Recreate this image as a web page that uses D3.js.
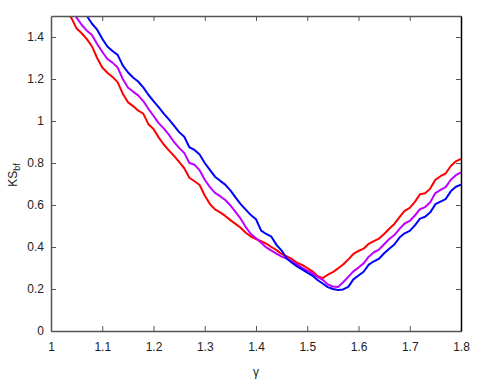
<!DOCTYPE html>
<html lang="en">
<head>
<meta charset="UTF-8">
<title>KS_bf vs gamma</title>
<script src="https://d3js.org/d3.v7.min.js"></script>
<style>
  body { margin: 0; background: #fff; }
  .tick-label { font-family: "Liberation Sans Narrow", "Liberation Sans", Arial, sans-serif; font-size: 12px; fill: #222; }
  .axis-label { font-family: "Liberation Sans", Arial, sans-serif; font-size: 12px; fill: #222; }
  .curve { fill: none; stroke-width: 2; stroke-linejoin: round; }
</style>
</head>
<body>
<div id="chart"></div>
<script>
// x grid (gamma)
const gamma = [1.00, 1.01, 1.02, 1.03, 1.04, 1.05, 1.06, 1.07, 1.08, 1.09,
  1.10, 1.11, 1.12, 1.13, 1.14, 1.15, 1.16, 1.17, 1.18, 1.19,
  1.20, 1.21, 1.22, 1.23, 1.24, 1.25, 1.26, 1.27, 1.28, 1.29,
  1.30, 1.31, 1.32, 1.33, 1.34, 1.35, 1.36, 1.37, 1.38, 1.39,
  1.40, 1.41, 1.42, 1.43, 1.44, 1.45, 1.46, 1.47, 1.48, 1.49,
  1.50, 1.51, 1.52, 1.53, 1.54, 1.55, 1.56, 1.57, 1.58, 1.59,
  1.60, 1.61, 1.62, 1.63, 1.64, 1.65, 1.66, 1.67, 1.68, 1.69,
  1.70, 1.71, 1.72, 1.73, 1.74, 1.75, 1.76, 1.77, 1.78, 1.79, 1.80];

const redValues = [1.62, 1.59, 1.56, 1.525, 1.49, 1.44, 1.418, 1.39, 1.355, 1.30,
  1.255, 1.23, 1.21, 1.185, 1.13, 1.09, 1.071, 1.05, 1.035, 0.985,
  0.962, 0.922, 0.888, 0.86, 0.834, 0.805, 0.775, 0.73, 0.713, 0.695,
  0.645, 0.605, 0.579, 0.565, 0.548, 0.528, 0.51, 0.492, 0.468, 0.45,
  0.438, 0.428, 0.416, 0.40, 0.385, 0.367, 0.355, 0.343, 0.325, 0.315,
  0.30, 0.284, 0.262, 0.252, 0.268, 0.28, 0.298, 0.317, 0.34, 0.367,
  0.381, 0.392, 0.415, 0.428, 0.44, 0.462, 0.487, 0.51, 0.542, 0.572,
  0.586, 0.615, 0.651, 0.656, 0.678, 0.72, 0.737, 0.75, 0.786, 0.808, 0.82];

const magentaValues = [1.65, 1.62, 1.59, 1.56, 1.525, 1.492, 1.457, 1.43, 1.41, 1.367,
  1.33, 1.295, 1.278, 1.255, 1.20, 1.16, 1.14, 1.122, 1.095, 1.058,
  1.025, 0.99, 0.965, 0.935, 0.90, 0.872, 0.848, 0.80, 0.792, 0.765,
  0.72, 0.685, 0.658, 0.642, 0.624, 0.598, 0.567, 0.535, 0.495, 0.462,
  0.442, 0.42, 0.398, 0.383, 0.368, 0.354, 0.345, 0.332, 0.317, 0.301,
  0.287, 0.274, 0.258, 0.244, 0.222, 0.212, 0.21, 0.232, 0.258, 0.284,
  0.302, 0.322, 0.354, 0.375, 0.388, 0.413, 0.438, 0.457, 0.486, 0.512,
  0.524, 0.55, 0.58, 0.59, 0.613, 0.657, 0.672, 0.685, 0.72, 0.742, 0.755];

const blueValues = [1.75, 1.71, 1.68, 1.64, 1.605, 1.57, 1.535, 1.50, 1.463, 1.435,
  1.392, 1.355, 1.333, 1.315, 1.265, 1.232, 1.207, 1.188, 1.16, 1.125,
  1.095, 1.066, 1.035, 1.008, 0.978, 0.947, 0.925, 0.875, 0.862, 0.84,
  0.80, 0.767, 0.735, 0.715, 0.697, 0.67, 0.636, 0.604, 0.578, 0.552,
  0.532, 0.478, 0.462, 0.449, 0.41, 0.383, 0.345, 0.325, 0.308, 0.293,
  0.278, 0.264, 0.243, 0.226, 0.209, 0.2, 0.195, 0.198, 0.21, 0.246,
  0.264, 0.282, 0.316, 0.332, 0.344, 0.37, 0.392, 0.412, 0.445, 0.465,
  0.477, 0.503, 0.535, 0.544, 0.565, 0.604, 0.616, 0.628, 0.665, 0.687, 0.697];

const xTicks = [1, 1.1, 1.2, 1.3, 1.4, 1.5, 1.6, 1.7, 1.8];
const yTicks = [0, 0.2, 0.4, 0.6, 0.8, 1, 1.2, 1.4];

const series = [
  {name: "red", values: redValues, color: "#ff0000"},
  {name: "magenta", values: magentaValues, color: "#c000ff"},
  {name: "blue", values: blueValues, color: "#0000ff"}
];

const W = 480, H = 382;
const margin = {top: 16, right: 19, bottom: 51, left: 51};
const width = W - margin.left - margin.right;
const height = H - margin.top - margin.bottom;

const svg = d3.select("#chart").append("svg")
    .attr("width", W)
    .attr("height", H);

const g = svg.append("g")
    .attr("transform", `translate(${margin.left},${margin.top})`);

const x = d3.scaleLinear().domain([1, 1.8]).range([0, width]);
const y = d3.scaleLinear().domain([0, 1.5]).range([height, 0]);

g.append("clipPath")
    .attr("id", "plot-clip")
  .append("rect")
    .attr("width", width)
    .attr("height", height);

const line = d3.line()
    .x((d, i) => x(gamma[i]))
    .y(d => y(d));

g.append("g")
    .attr("clip-path", "url(#plot-clip)")
  .selectAll("path")
  .data(series)
  .enter().append("path")
    .attr("class", "curve")
    .attr("stroke", d => d.color)
    .attr("d", d => line(d.values));

// axes: ticks point inward, mirrored on top/right
const fmt = d => String(d);
const tickLen = 5;

const axBottom = g.append("g")
    .attr("transform", `translate(0,${height})`)
    .call(d3.axisBottom(x).tickValues(xTicks).tickSizeInner(-tickLen).tickSizeOuter(0).tickPadding(12).tickFormat(fmt));
const axTop = g.append("g")
    .call(d3.axisTop(x).tickValues(xTicks).tickSizeInner(-tickLen).tickSizeOuter(0).tickFormat(""));
const axLeft = g.append("g")
    .call(d3.axisLeft(y).tickValues(yTicks).tickSizeInner(-tickLen).tickSizeOuter(0).tickPadding(12).tickFormat(fmt));
const axRight = g.append("g")
    .attr("transform", `translate(${width},0)`)
    .call(d3.axisRight(y).tickValues(yTicks).tickSizeInner(-tickLen).tickSizeOuter(0).tickFormat(""));

[axBottom, axTop, axLeft, axRight].forEach(a => {
  a.selectAll(".tick line").attr("stroke", "#555");
  a.selectAll(".tick text").attr("class", "tick-label");
  a.select(".domain").attr("stroke", "#555").attr("stroke-width", 1.5);
  a.attr("font-family", null).attr("font-size", null);
});
axRight.select(".domain").attr("stroke", "#000");
axLeft.selectAll(".tick text").attr("x", -7);
axBottom.selectAll(".tick text").attr("y", 11);
axRight.selectAll(".tick line").filter(d => d === 0).remove();
axTop.selectAll(".tick line").filter(d => d === 1 || d === 1.8).remove();

// axis labels
svg.append("text")
    .attr("class", "axis-label")
    .attr("x", margin.left + x(1.4))
    .attr("y", 376)
    .attr("text-anchor", "middle")
    .text("γ");

const yl = svg.append("text")
    .attr("class", "axis-label")
    .attr("transform", `translate(17,${175}) rotate(-90)`)
    .attr("text-anchor", "middle");
yl.append("tspan").text("KS");
yl.append("tspan").attr("dy", 3).attr("font-size", "9px").text("bf");
</script>
</body>
</html>
